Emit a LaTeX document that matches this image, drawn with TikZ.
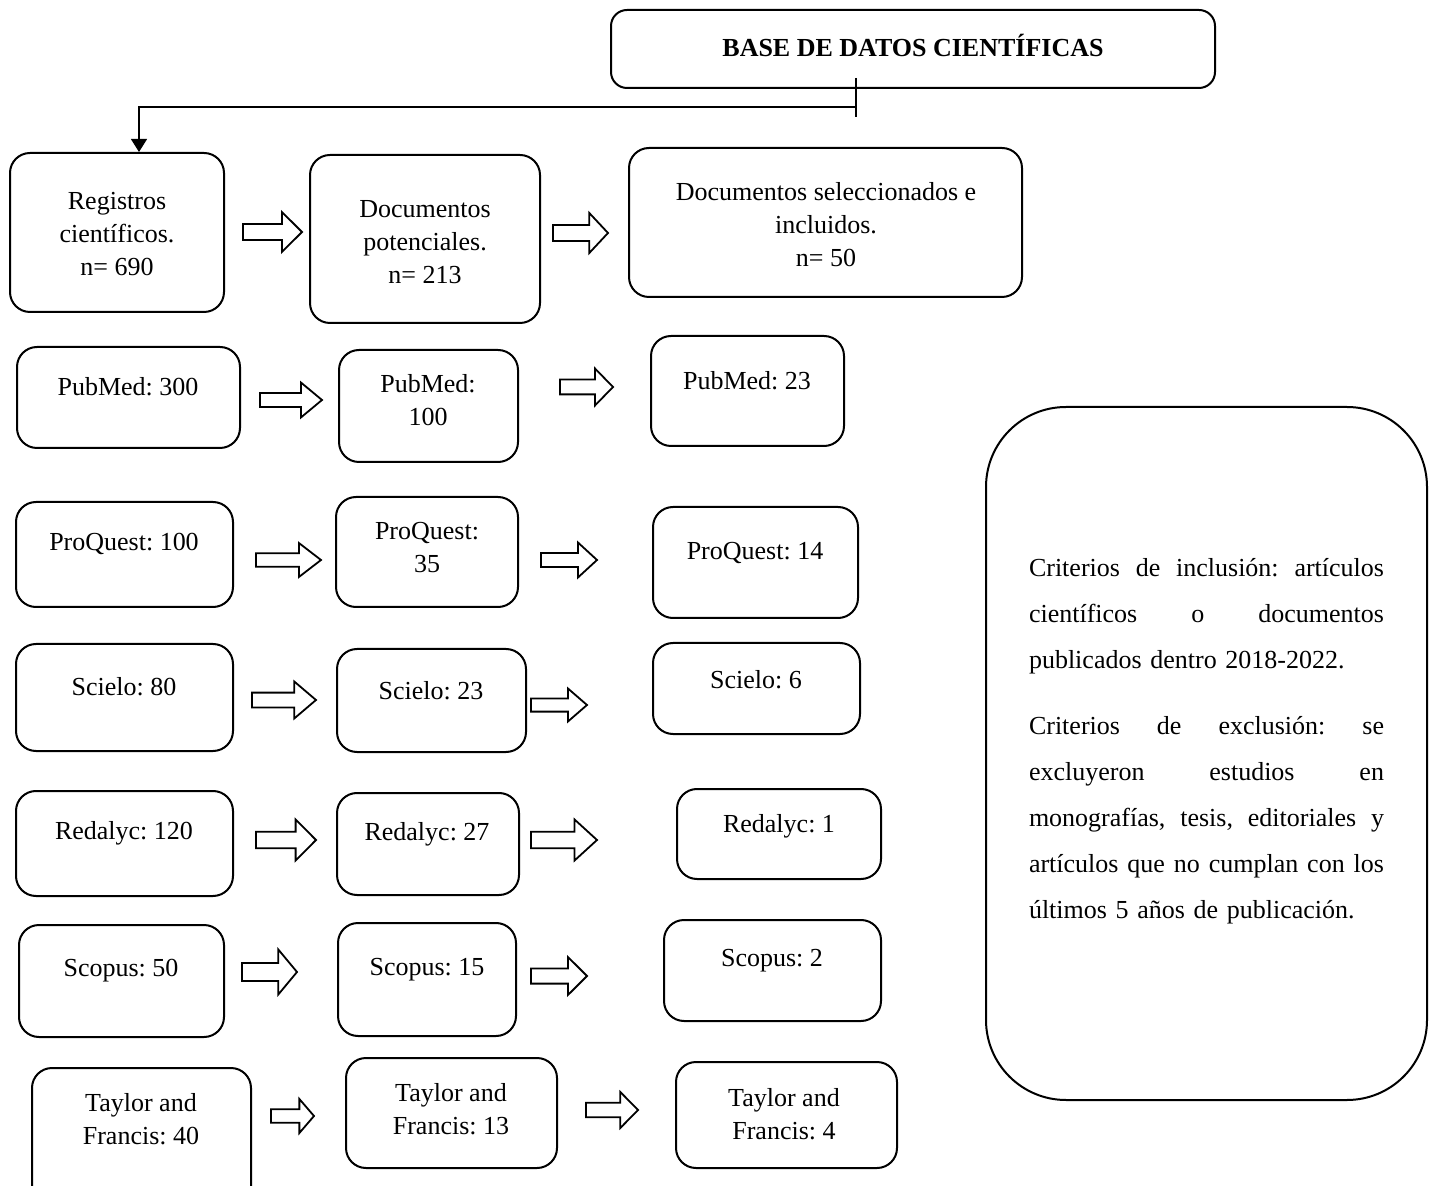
\documentclass[tikz,border=0pt]{standalone}
\usepackage{fontspec}
\setmainfont{Liberation Serif}
\usetikzlibrary{arrows.meta}
\tikzset{
  box/.style={draw, line width=1pt, rounded corners=10pt, inner sep=0pt},
  bigbox/.style={draw, line width=1pt, rounded corners=40pt, inner sep=0pt},
  topbox/.style={draw, line width=1pt, rounded corners=8pt, inner sep=0pt},
  txt/.style={align=center, inner sep=0pt, font=\fontsize{13}{16.5}\selectfont\frenchspacing},
  blk/.style={draw, line width=0.9pt, fill=white, line join=miter},
  conn/.style={draw, line width=0.6pt}
}
\newcommand{\bx}[6][box]{%
  \pgfmathsetmacro{\bxcx}{(#3+#5)/2}\pgfmathsetmacro{\bxcy}{(#4+#6)/2}%
  \pgfmathsetmacro{\bxw}{(#5-#3)*0.5}\pgfmathsetmacro{\bxh}{(#6-#4)*0.5}%
  \node[#1, minimum width=\bxw pt, minimum height=\bxh pt] (#2) at (\bxcx,\bxcy) {};}
\newcommand{\barrow}[4]{%
  \pgfmathsetmacro{\bahx}{#2-0.34*(#2-#1)}%
  \pgfmathsetmacro{\basa}{#3-0.4*#4}\pgfmathsetmacro{\basb}{#3+0.4*#4}%
  \pgfmathsetmacro{\baha}{#3-#4}\pgfmathsetmacro{\bahb}{#3+#4}%
  \draw[blk] (#1,\basa) -- (\bahx,\basa) -- (\bahx,\baha) -- (#2,#3) -- (\bahx,\bahb) -- (\bahx,\basb) -- (#1,\basb) -- cycle;}
\newcommand{\jline}[1]{\leavevmode\hbox to 177.5pt{#1}}
\begin{document}
\frenchspacing
\begin{tikzpicture}[x=0.5pt, y=-0.5pt]
\clip (0,0) rectangle (1434,1186);
\fill[white] (0,0) rectangle (1434,1186);

% top box
\bx[topbox]{top}{611}{10}{1215}{88}
\node[txt, font=\fontsize{13}{16.5}\selectfont\bfseries] (topt) at (913,45) {BASE DE DATOS CIENTÍFICAS};

% main boxes
\bx{A}{10}{153}{224}{312}
\bx{B}{310}{155}{540}{323}
\bx{C}{629}{148}{1022}{297}
\node[txt] (At) at (117,234) {Registros\\científicos.\\n= 690};
\node[txt] (Bt) at (425,242) {Documentos\\potenciales.\\n= 213};
\node[txt] (Ct) at (826,225) {Documentos seleccionados e\\incluidos.\\n= 50};

\bx{P1}{17}{347}{240}{448}
\bx{P2}{339}{350}{518}{462}
\bx{P3}{651}{336}{844}{446}
\node[txt] (P1t) at (128,387) {PubMed: 300};
\node[txt] (P2t) at (428,400) {PubMed:\\100};
\node[txt] (P3t) at (747,381) {PubMed: 23};

\bx{Q1}{16}{502}{233}{607}
\bx{Q2}{336}{497}{518}{607}
\bx{Q3}{653}{507}{858}{618}
\node[txt] (Q1t) at (124,544) {ProQuest: 100};
\node[txt] (Q2t) at (427,548) {ProQuest:\\35};
\node[txt] (Q3t) at (755,553) {ProQuest: 14};

\bx{S1}{16}{644}{233}{751}
\bx{S2}{337}{649}{526}{752}
\bx{S3}{653}{643}{860}{734}
\node[txt] (S1t) at (124,687) {Scielo: 80};
\node[txt] (S2t) at (431,691) {Scielo: 23};
\node[txt] (S3t) at (756,680) {Scielo: 6};

\bx{R1}{16}{791}{233}{896}
\bx{R2}{337}{793}{519}{895}
\bx{R3}{677}{789}{881}{879}
\node[txt] (R1t) at (124,833) {Redalyc: 120};
\node[txt] (R2t) at (427,834) {Redalyc: 27};
\node[txt] (R3t) at (779,826) {Redalyc: 1};

\bx{K1}{19}{925}{224}{1037}
\bx{K2}{338}{923}{516}{1036}
\bx{K3}{664}{920}{881}{1021}
\node[txt] (K1t) at (121,971) {Scopus: 50};
\node[txt] (K2t) at (427,970) {Scopus: 15};
\node[txt] (K3t) at (772,961) {Scopus: 2};

\bx{T1}{32}{1068}{251}{1230}
\bx{T2}{346}{1058}{557}{1168}
\bx{T3}{676}{1062}{897}{1168}
\node[txt] (T1t) at (141,1119) {Taylor and\\Francis: 40};
\node[txt] (T2t) at (451,1109) {Taylor and\\Francis: 13};
\node[txt] (T3t) at (784,1114) {Taylor and\\Francis: 4};

% criteria box
\bx[bigbox]{crit}{986}{407}{1427}{1100}
\node[inner sep=0pt, align=left, text width=177.5pt, font=\fontsize{13}{23}\selectfont\frenchspacing] (critt) at (1206.5,741) {%
\jline{Criterios\hfill de\hfill inclusión:\hfill artículos}\\
\jline{científicos\hfill o\hfill documentos}\\
publicados dentro 2018-2022.\\[10pt]
\jline{Criterios\hfill de\hfill exclusión:\hfill se}\\
\jline{excluyeron\hfill estudios\hfill en}\\
\jline{monografías,\hfill tesis,\hfill editoriales\hfill y}\\
\jline{artículos\hfill que\hfill no\hfill cumplan\hfill con\hfill los}\\
últimos 5 años de publicación.};

% connector from top box
\coordinate (j1) at (856,78);
\coordinate (j2) at (856,117);
\coordinate (jt) at (856,107);
\coordinate (ax) at (139,0);
\draw[conn] (j1) -- (j2);
\draw[conn, -{Triangle[length=6.5pt,width=8pt]}] (jt) -| (A.north -| ax);

% block arrows
\barrow{243}{302}{232}{20}
\barrow{553}{608}{233}{20}
\barrow{260}{322}{400}{17.5}
\barrow{560}{613}{387}{18.5}
\barrow{256}{321}{560}{17}
\barrow{541}{597}{560}{17.5}
\barrow{252}{316}{700}{18.5}
\barrow{531}{587}{705}{16.5}
\barrow{256}{316}{840}{20.5}
\barrow{531}{597}{840}{20.5}
\barrow{242}{297}{972}{22.5}
\barrow{531}{587}{976}{19}
\barrow{271}{314}{1116}{17}
\barrow{586}{638}{1110}{18}
\end{tikzpicture}
\end{document}
